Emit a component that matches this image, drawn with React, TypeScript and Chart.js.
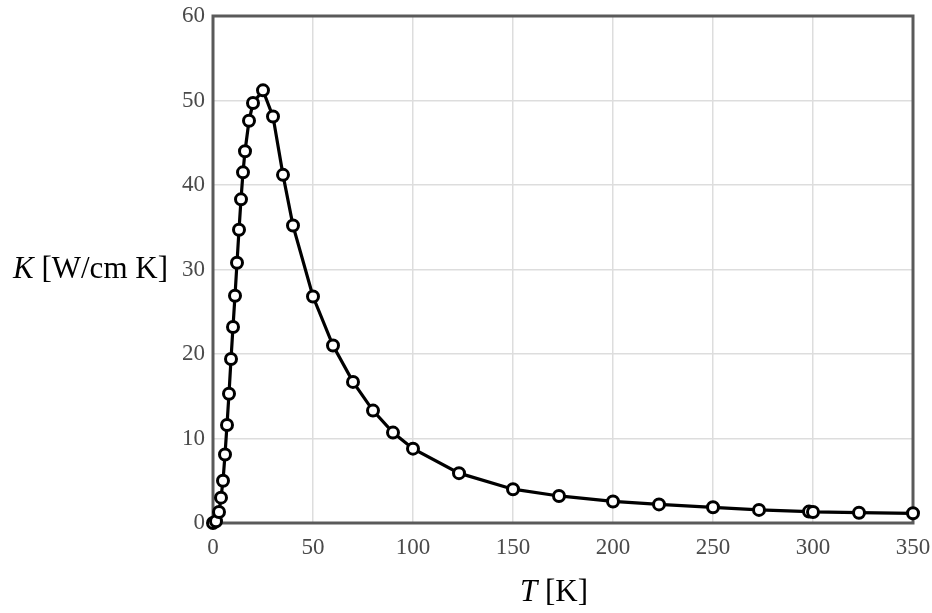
import React, { useEffect, useRef } from 'react';
import { Chart, registerables } from 'chart.js';

Chart.register(...registerables);

const temperatures = [0, 1.5, 3, 4, 5, 6, 7, 8, 9, 10, 11, 12, 13, 14, 15, 16, 18, 20, 25, 30, 35, 40, 50, 60, 70, 80, 90, 100, 123, 150, 173, 200, 223, 250, 273, 298, 300, 323, 350];
const conductivity = [0, 0.2, 1.3, 3.0, 5.0, 8.1, 11.6, 15.3, 19.4, 23.2, 26.9, 30.8, 34.7, 38.3, 41.5, 44.0, 47.6, 49.7, 51.2, 48.1, 41.2, 35.2, 26.8, 21.0, 16.7, 13.3, 10.7, 8.8, 5.9, 4.0, 3.2, 2.55, 2.2, 1.86, 1.55, 1.35, 1.31, 1.22, 1.15];
const xTickValues = [0, 50, 100, 150, 200, 250, 300, 350];
const yTickValues = [0, 10, 20, 30, 40, 50, 60];
const xTitleItalic = 'T';
const xTitleRest = ' [K]';
const yTitleItalic = 'K';
const yTitleRest = ' [W/cm K]';

const SERIF = '"Liberation Serif", "Times New Roman", serif';

const framePlugin = {
  id: 'frame',
  beforeDatasetsDraw(chart: any) {
    const { ctx, chartArea } = chart;
    ctx.save();
    ctx.strokeStyle = '#5a5a5a';
    ctx.lineWidth = 3;
    ctx.strokeRect(chartArea.left, chartArea.top, chartArea.right - chartArea.left, chartArea.bottom - chartArea.top);
    ctx.restore();
  },
  afterDraw(chart: any) {
    const { ctx, chartArea } = chart;
    ctx.save();
    ctx.fillStyle = '#000';
    ctx.textBaseline = 'middle';
    ctx.textAlign = 'left';
    // Y title (horizontal, left of axis)
    ctx.font = `italic 31px ${SERIF}`;
    const yx = 13;
    const yy = 270;
    ctx.fillText(yTitleItalic, yx, yy);
    const kw = ctx.measureText(yTitleItalic).width;
    ctx.font = `31px ${SERIF}`;
    ctx.fillText(yTitleRest, yx + kw, yy);
    // X title
    ctx.font = `italic 31px ${SERIF}`;
    const tw = ctx.measureText(xTitleItalic).width;
    ctx.font = `31px ${SERIF}`;
    const rw = ctx.measureText(xTitleRest).width;
    const cx = (chartArea.left + chartArea.right) / 2 - 9;
    const startX = cx - (tw + rw) / 2;
    ctx.font = `italic 31px ${SERIF}`;
    ctx.fillText(xTitleItalic, startX, 593);
    ctx.font = `31px ${SERIF}`;
    ctx.fillText(xTitleRest, startX + tw, 593);
    ctx.restore();
  },
};

export default function App() {
  const canvasRef = useRef<HTMLCanvasElement | null>(null);

  useEffect(() => {
    if (!canvasRef.current) return;
    const points = temperatures.map((t, i) => ({ x: t, y: conductivity[i] }));
    const chart = new Chart(canvasRef.current, {
      type: 'line',
      data: {
        datasets: [
          {
            data: points,
            borderColor: '#000',
            borderWidth: 3.2,
            backgroundColor: '#fff',
            pointBackgroundColor: '#fff',
            pointBorderColor: '#000',
            pointBorderWidth: 3,
            pointRadius: 5.5,
            tension: 0,
            clip: false as any,
          },
        ],
      },
      options: {
        animation: false,
        responsive: true,
        maintainAspectRatio: false,
        layout: { padding: { left: 0, top: 16, right: 19, bottom: 0 } },
        plugins: { legend: { display: false }, tooltip: { enabled: false } },
        scales: {
          x: {
            type: 'linear',
            min: 0,
            max: 350,
            afterBuildTicks: (scale: any) => {
              scale.ticks = xTickValues.map((v) => ({ value: v }));
            },
            afterFit: (scale: any) => {
              scale.height = 90;
              scale.paddingLeft = 0;
              scale.paddingRight = 0;
            },
            grid: { color: '#dddddd', lineWidth: 1.5, drawTicks: false },
            border: { display: false },
            ticks: {
              color: '#4a4a4a',
              padding: 11,
              font: { family: SERIF, size: 23 },
              maxRotation: 0,
            },
          },
          y: {
            type: 'linear',
            min: 0,
            max: 60,
            afterBuildTicks: (scale: any) => {
              scale.ticks = yTickValues.map((v) => ({ value: v }));
            },
            afterFit: (scale: any) => {
              scale.width = 213;
              scale.paddingTop = 0;
              scale.paddingBottom = 0;
            },
            grid: { color: '#dddddd', lineWidth: 1.5, drawTicks: false },
            border: { display: false },
            ticks: {
              color: '#4a4a4a',
              padding: 8,
              font: { family: SERIF, size: 23 },
            },
          },
        },
      },
      plugins: [framePlugin],
    });
    return () => chart.destroy();
  }, []);

  return (
    <div style={{ position: 'fixed', left: 0, top: 0, width: 932, height: 613, background: '#fff' }}>
      <canvas ref={canvasRef} />
    </div>
  );
}
